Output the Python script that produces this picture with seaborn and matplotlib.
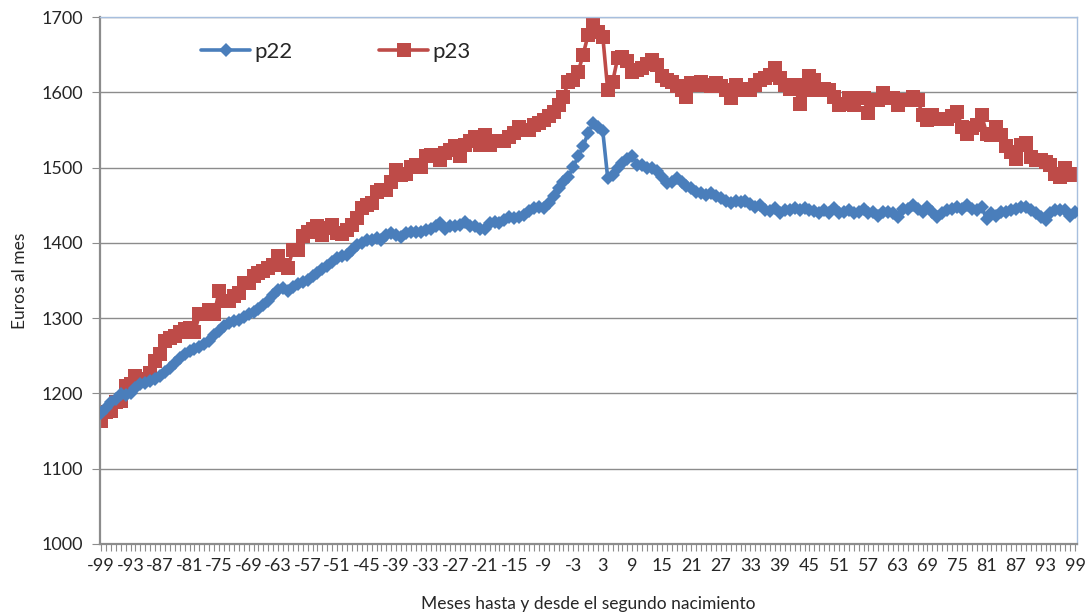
import numpy as np
import pandas as pd
import matplotlib
matplotlib.use("Agg")
import matplotlib.pyplot as plt
import seaborn as sns

# months relative to the second birth
months = list(range(-99, 100))

# p22 (-99 .. 99)
p22 = [
    1174, 1181, 1188, 1193, 1199, 1198, 1201, 1207, 1212, 1214,   # -99 .. -90
    1216, 1219, 1223, 1229, 1234, 1241, 1247, 1252, 1256, 1259,   # -89 .. -80
    1261, 1265, 1269, 1277, 1283, 1289, 1294, 1296, 1298, 1302,   # -79 .. -70
    1305, 1308, 1312, 1318, 1323, 1331, 1338, 1340, 1336, 1341,   # -69 .. -60
    1345, 1348, 1351, 1356, 1360, 1365, 1369, 1375, 1380, 1382,   # -59 .. -50
    1384, 1391, 1397, 1400, 1404, 1404, 1406, 1404, 1411, 1413,   # -49 .. -40
    1411, 1408, 1413, 1415, 1415, 1415, 1417, 1419, 1422, 1426,   # -39 .. -30
    1419, 1422, 1422, 1424, 1428, 1422, 1422, 1419, 1419, 1426,   # -29 .. -20
    1428, 1426, 1431, 1435, 1433, 1435, 1437, 1442, 1446, 1448,   # -19 .. -10
    1446, 1453, 1462, 1473, 1481, 1488, 1501, 1515, 1528, 1546,   # -9 .. 0
    1559, 1554, 1548, 1486, 1490, 1499, 1506, 1512, 1515, 1504,   # 1 .. 10
    1504, 1499, 1499, 1495, 1488, 1479, 1481, 1486, 1481, 1475,   # 11 .. 20
    1473, 1468, 1466, 1464, 1466, 1462, 1459, 1455, 1453, 1455,   # 21 .. 30
    1454, 1455, 1452, 1448, 1450, 1444, 1442, 1446, 1439, 1444,   # 31 .. 40
    1444, 1446, 1444, 1446, 1444, 1442, 1439, 1444, 1439, 1446,   # 41 .. 50
    1439, 1441, 1443, 1439, 1441, 1445, 1439, 1441, 1436, 1441,   # 51 .. 60
    1441, 1439, 1434, 1445, 1445, 1450, 1445, 1441, 1448, 1441,   # 61 .. 70
    1434, 1439, 1443, 1445, 1448, 1445, 1450, 1445, 1443, 1448,   # 71 .. 80
    1432, 1439, 1436, 1441, 1441, 1443, 1445, 1448, 1448, 1443,   # 81 .. 90
    1439, 1434, 1430, 1439, 1443, 1443, 1443, 1436, 1441,         # 91 .. 99
]

# p23 (-99 .. 99)
p23 = [
    1163, 1175, 1177, 1188, 1190, 1210, 1212, 1223, 1219, 1219,   # -99 .. -90
    1227, 1243, 1252, 1270, 1274, 1276, 1281, 1285, 1287, 1281,   # -89 .. -80
    1305, 1305, 1311, 1305, 1336, 1323, 1323, 1329, 1334, 1347,   # -79 .. -70
    1347, 1356, 1360, 1362, 1367, 1371, 1382, 1371, 1367, 1391,   # -69 .. -60
    1391, 1409, 1415, 1418, 1422, 1411, 1420, 1424, 1413, 1412,   # -59 .. -50
    1417, 1424, 1433, 1446, 1450, 1453, 1468, 1470, 1470, 1481,   # -49 .. -40
    1497, 1490, 1492, 1501, 1504, 1501, 1515, 1517, 1515, 1510,   # -39 .. -30
    1519, 1523, 1528, 1515, 1530, 1535, 1541, 1530, 1543, 1530,   # -29 .. -20
    1535, 1535, 1535, 1541, 1546, 1554, 1550, 1550, 1557, 1559,   # -19 .. -10
    1563, 1568, 1574, 1583, 1594, 1614, 1616, 1627, 1650, 1676,   # -9 .. 0
    1694, 1680, 1674, 1603, 1614, 1645, 1647, 1641, 1627, 1630,   # 1 .. 10
    1632, 1638, 1643, 1636, 1621, 1616, 1614, 1608, 1603, 1594,   # 11 .. 20
    1612, 1610, 1614, 1610, 1608, 1612, 1608, 1603, 1592, 1610,   # 21 .. 30
    1605, 1603, 1603, 1610, 1616, 1619, 1623, 1632, 1619, 1610,   # 31 .. 40
    1605, 1610, 1585, 1603, 1621, 1616, 1603, 1605, 1603, 1594,   # 41 .. 50
    1583, 1585, 1592, 1583, 1592, 1592, 1572, 1590, 1590, 1599,   # 51 .. 60
    1592, 1592, 1583, 1590, 1590, 1594, 1590, 1570, 1563, 1570,   # 61 .. 70
    1565, 1565, 1565, 1568, 1574, 1554, 1545, 1552, 1556, 1570,   # 71 .. 80
    1545, 1543, 1554, 1543, 1528, 1521, 1512, 1530, 1532, 1514,   # 81 .. 90
    1510, 1510, 1508, 1503, 1492, 1488, 1499, 1490, 1492,         # 91 .. 99
]

xtick_labels = list(range(-99, 100, 6))
yticks = list(range(1000, 1701, 100))

df = pd.DataFrame({"mes": months, "p22": p22, "p23": p23})

sns.set_theme(style="white")
plt.rcParams["font.family"] = ["Lato", "DejaVu Sans"]

fig = plt.figure(figsize=(10.91, 6.16), dpi=100)
ax = fig.add_axes([0.0917, 0.1169, 0.8955, 0.8555])

# Excel-like gridlines behind the data
for y in yticks[1:]:
    ax.axhline(y, color="#8c8c8c", lw=1.0, zorder=0)

sns.lineplot(data=df, x="mes", y="p22", ax=ax, color="#4a7ebb", lw=2.6,
             marker="D", markersize=7.5, markeredgewidth=0, label="p22", zorder=3)
sns.lineplot(data=df, x="mes", y="p23", ax=ax, color="#be4b48", lw=2.6,
             marker="s", markersize=10, markeredgewidth=0, label="p23", zorder=2)

ax.set_xlim(-99.2, 99.4)
ax.set_ylim(1000, 1700)
ax.set_yticks(yticks)
ax.set_xticks(xtick_labels)
ax.set_xticklabels([str(v) for v in xtick_labels])
ax.set_xticks(months, minor=True)
ax.tick_params(axis="x", which="both", direction="out", length=5, width=0.8,
               color="#8c8c8c", labelsize=13, pad=5, bottom=True)
ax.tick_params(axis="y", which="major", direction="out", length=6, width=0.8,
               color="#8c8c8c", labelsize=13, pad=6, left=True)

for side in ["left", "bottom"]:
    ax.spines[side].set_color("#8c8c8c")
    ax.spines[side].set_linewidth(1.6)
for side in ["top", "right"]:
    ax.spines[side].set_color("#a7bfde")
    ax.spines[side].set_linewidth(1.0)

ax.set_xlabel("Meses hasta y desde el segundo nacimiento", fontsize=12.5, labelpad=16)
ax.set_ylabel("Euros al mes", fontsize=12.5, labelpad=10)

ax.legend(loc="center left", bbox_to_anchor=(0.083, 0.934), ncol=2, frameon=False,
          fontsize=16, handlelength=2.2, columnspacing=3.9, handletextpad=0.2)

fig.savefig("out.png", dpi=100)
